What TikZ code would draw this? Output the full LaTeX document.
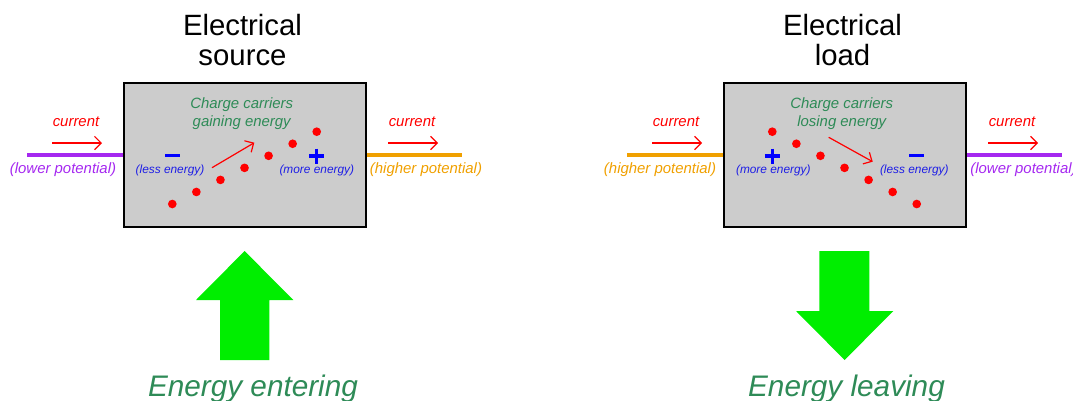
\documentclass[tikz,border=0pt]{standalone}
\usepackage{fontspec}
\setmainfont{Liberation Sans}
\usetikzlibrary{positioning,arrows.meta}

\definecolor{boxgray}{RGB}{204,204,204}
\definecolor{wirepurple}{RGB}{165,40,240}
\definecolor{wireorange}{RGB}{240,160,0}
\definecolor{labelgreen}{RGB}{46,139,87}
\definecolor{energyblue}{RGB}{30,30,230}
\definecolor{bigarrow}{RGB}{0,238,0}

\begin{document}
\begin{tikzpicture}[x=0.75pt,y=-0.75pt,
    device/.style={draw=black, line width=1.2pt, fill=boxgray, minimum width=181.5pt, minimum height=108pt, inner sep=0pt},
    title/.style={font=\fontsize{22}{22}\selectfont, align=center},
    curlabel/.style={text=red, font=\fontsize{11.2}{13}\selectfont\itshape, anchor=base},
    curarrow/.style={red, line width=0.9pt, -{Straight Barb[length=5pt,width=10pt]}},
    potlabel/.style={font=\fontsize{11.2}{13}\selectfont\itshape, anchor=base},
    carrier/.style={text=labelgreen, font=\fontsize{11.2}{13.3}\selectfont\itshape, align=center},
    enlabel/.style={text=energyblue, font=\fontsize{8.9}{10}\selectfont\itshape, anchor=base},
    sign/.style={blue, line width=2.6pt},
    wire/.style={line width=2.5pt},
    dot/.style={circle, fill=red, inner sep=0pt, minimum size=6.5pt},
    flowarrow/.style={red, line width=0.9pt, -{Straight Barb[length=5pt,width=10pt]}},
    energy/.style={text=labelgreen, font=\fontsize{22.3}{22}\selectfont\itshape, anchor=base}
]
    \useasboundingbox (0,0) rectangle (1073,400);

    % Source and load boxes
    \node[device] (src) at (245,155) {};
    \node[device] (ld) at (845,155) {};

    \node[title] (srctitle) at (242.5,40) {Electrical\\source};
    \node[title] (ldtitle) at (842.5,40) {Electrical\\load};

    % Wires
    \coordinate (srcl) at (27,155);
    \coordinate (srcr) at (462,155);
    \coordinate (ldl) at (627,155);
    \coordinate (ldr) at (1062,155);
    \draw[wire, wirepurple] (srcl) -- (src.west);
    \draw[wire, wireorange] (src.east) -- (srcr);
    \draw[wire, wireorange] (ldl) -- (ld.west);
    \draw[wire, wirepurple] (ld.east) -- (ldr);

    % Current arrows
    \foreach \n/\x in {a/77,b/413,c/677,d/1013} {
        \node[curlabel] (cur\n) at (\x-1,126.5) {current};
        \coordinate (cur\n w) at (\x-25,143);
        \coordinate (cur\n e) at (\x+25,143);
        \draw[curarrow] (cur\n w) -- (cur\n e);
    }

    % Potential labels
    \node[potlabel, text=wirepurple] (srclow) at (63,173.5) {(lower potential)};
    \node[potlabel, text=wireorange] (srchigh) at (426,173.5) {(higher potential)};
    \node[potlabel, text=wireorange] (ldhigh) at (660,173.5) {(higher potential)};
    \node[potlabel, text=wirepurple] (ldlow) at (1023.5,173.5) {(lower potential)};

    % Inside the source
    \node[carrier] (srctext) at (241.7,113.3) {Charge carriers\\gaining energy};
    \foreach \i in {0,...,6}
        \node[dot] (s\i) at (172.3+24.07*\i,204-12.05*\i) {};
    \coordinate (srcfrom) at (212,167.7);
    \coordinate (srcto) at (254.3,142.7);
    \draw[flowarrow] (srcfrom) -- (srcto);
    \draw[sign] (165,155.7) -- (180,155.7);
    \draw[sign] (309.2,156) -- (324.2,156);
    \draw[sign] (316.7,148.5) -- (316.7,163.5);
    \node[enlabel] (srcless) at (170,173) {(less energy)};
    \node[enlabel] (srcmore) at (316.8,173) {(more energy)};

    % Inside the load
    \node[carrier] (ldtext) at (841.7,113.3) {Charge carriers\\losing energy};
    \foreach \i in {0,...,6}
        \node[dot] (l\i) at (772.3+24.07*\i,131.7+12.05*\i) {};
    \coordinate (ldfrom) at (828.7,137.3);
    \coordinate (ldto) at (872.7,161.7);
    \draw[flowarrow] (ldfrom) -- (ldto);
    \draw[sign] (764.8,156) -- (779.8,156);
    \draw[sign] (772.3,148.5) -- (772.3,163.5);
    \draw[sign] (909.2,155.7) -- (924.2,155.7);
    \node[enlabel] (ldmore) at (773.3,173) {(more energy)};
    \node[enlabel] (ldless) at (914.3,173) {(less energy)};

    % Energy arrows
    \fill[bigarrow] (220,360) -- (220,300) -- (196,300) -- (244.6,251)
        -- (293.3,300) -- (269.3,300) -- (269.3,360) -- cycle;
    \fill[bigarrow] (819.3,251) -- (869.3,251) -- (869.3,311) -- (893.3,311)
        -- (844.6,360) -- (796,311) -- (819.3,311) -- cycle;
    \node[energy] (enin) at (253,396) {Energy entering};
    \node[energy] (enout) at (846.5,396) {Energy leaving};
\end{tikzpicture}
\end{document}
